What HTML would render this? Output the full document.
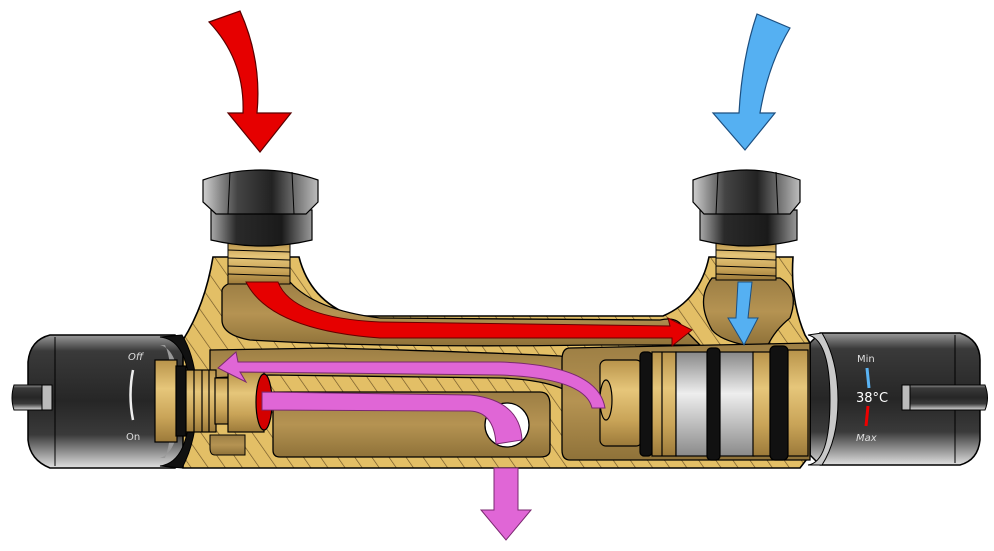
<!DOCTYPE html>
<html><head><meta charset="utf-8"><style>
html,body{margin:0;padding:0;background:#fff;width:994px;height:551px;overflow:hidden}
svg{display:block}
text{font-family:"DejaVu Sans","Liberation Sans",sans-serif}
</style></head><body>
<svg width="994" height="551" viewBox="0 0 994 551" xmlns="http://www.w3.org/2000/svg">
<defs>
<pattern id="hatch" width="14" height="14" patternUnits="userSpaceOnUse" patternTransform="rotate(-35)">
<rect width="14" height="14" fill="#e3bf66"/><line x1="0" y1="0" x2="0" y2="14" stroke="#6b5226" stroke-width="1.3"/>
</pattern>
<linearGradient id="knob" x1="0" y1="0" x2="0" y2="1">
<stop offset="0" stop-color="#9a9a9a"/><stop offset="0.12" stop-color="#3a3a3a"/><stop offset="0.5" stop-color="#262626"/><stop offset="0.75" stop-color="#3a3a3a"/><stop offset="1" stop-color="#e0e0e0"/>
</linearGradient>
<linearGradient id="nut" x1="0" y1="0" x2="1" y2="0">
<stop offset="0" stop-color="#cfcfcf"/><stop offset="0.3" stop-color="#444"/><stop offset="0.6" stop-color="#222"/><stop offset="1" stop-color="#bdbdbd"/>
</linearGradient>
<linearGradient id="nut2" x1="0" y1="0" x2="1" y2="0">
<stop offset="0" stop-color="#aaa"/><stop offset="0.25" stop-color="#2a2a2a"/><stop offset="0.7" stop-color="#1a1a1a"/><stop offset="1" stop-color="#999"/>
</linearGradient>
<linearGradient id="brass" x1="0" y1="0" x2="0" y2="1">
<stop offset="0" stop-color="#b8934a"/><stop offset="0.35" stop-color="#e6c67a"/><stop offset="0.7" stop-color="#c9a458"/><stop offset="1" stop-color="#9c7a3a"/>
</linearGradient>
<linearGradient id="silver" x1="0" y1="0" x2="0" y2="1">
<stop offset="0" stop-color="#888"/><stop offset="0.4" stop-color="#eee"/><stop offset="1" stop-color="#8a8a8a"/>
</linearGradient>
<linearGradient id="cav" x1="0" y1="0" x2="0" y2="1">
<stop offset="0" stop-color="#9c7e44"/><stop offset="0.5" stop-color="#b59352"/><stop offset="1" stop-color="#8f7239"/>
</linearGradient>
</defs>

<!-- arrows top -->
<path d="M209,22 L240,11 Q262,60 257,113 L291,113 L260,152 L228,113 L243,113 Q245,60 209,22 Z" fill="#e60000" stroke="#5a0000" stroke-width="1.2"/>
<path d="M757,14 L790,28 Q768,65 760,113 L775,113 L745,150 L713,113 L739,113 Q742,58 757,14 Z" fill="#55b0f2" stroke="#1c4f80" stroke-width="1.2"/>

<!-- left knob -->
<path d="M50,335 L175,335 L185,345 L185,462 L175,468 L50,468 Q30,460 28,440 L28,362 Q30,340 50,335 Z" fill="url(#knob)" stroke="#000" stroke-width="1.5"/>
<line x1="55" y1="337" x2="55" y2="466" stroke="#000" stroke-width="1"/>
<path d="M14,385 L50,385 L52,410 L14,410 Q10,398 14,385 Z" fill="url(#knob)" stroke="#000"/>
<path d="M42,385 L52,385 L52,410 L42,410 Z" fill="#bbb" stroke="#000"/>
<text x="128" y="360" font-size="10" fill="#ddd" font-style="italic">Off</text>
<path d="M133,370 Q128,395 133,420" fill="none" stroke="#eee" stroke-width="2.5"/>
<text x="126" y="440" font-size="10" fill="#ddd">On</text>

<!-- right knob -->
<path d="M820,333 L960,333 Q980,340 980,360 L980,440 Q978,460 960,465 L820,465 L810,455 L810,343 Z" fill="url(#knob)" stroke="#000" stroke-width="1.5"/>
<line x1="955" y1="335" x2="955" y2="463" stroke="#000" stroke-width="1"/>
<path d="M902,385 L985,385 Q990,398 985,410 L902,410 Z" fill="url(#knob)" stroke="#000"/>
<path d="M902,385 L910,385 L910,410 L902,410 Z" fill="#bbb" stroke="#000"/>
<text x="857" y="362" font-size="10" fill="#ddd">Min</text>
<line x1="867" y1="368" x2="869" y2="388" stroke="#5ab4f5" stroke-width="3"/>
<text x="856" y="402" font-size="13" fill="#fff">38°C</text>
<line x1="868" y1="406" x2="866" y2="426" stroke="#e00" stroke-width="3"/>
<text x="856" y="441" font-size="10" fill="#ddd" font-style="italic">Max</text>

<!-- body -->
<path d="M213,257 L299,257 Q310,300 352,316 L663,316 Q700,300 709,257 L793,257 Q790,300 805,335 L810,343 L810,455 L800,468 L183,468 L183,340 Q205,305 213,257 Z" fill="url(#hatch)" stroke="#000" stroke-width="1.6"/>

<!-- knob rim ends -->
<path d="M160,337 Q190,340 190,400 Q190,462 160,466 L182,468 Q197,440 197,400 Q197,360 182,335 Z" fill="#111" stroke="#000"/>
<path d="M160,345 Q180,350 180,400 Q180,452 160,458 L165,458 Q172,440 172,400 Q172,360 165,345 Z" fill="#999"/>
<path d="M808,335 Q830,340 830,400 Q830,462 808,465 L822,465 Q838,440 838,400 Q838,360 822,333 Z" fill="#c9c9c9" stroke="#000"/>

<!-- upper cavity -->
<path d="M222,290 Q225,282 240,282 L290,282 Q315,310 380,318 L660,320 Q678,316 683,328 L700,345 L600,345 Q380,348 250,340 Q222,335 222,320 Z" fill="url(#cav)" stroke="#000" stroke-width="1.3"/>
<!-- right inlet cavity -->
<path d="M712,278 L780,278 Q800,290 790,318 Q775,330 768,345 L745,345 Q720,340 712,330 Q695,300 712,278 Z" fill="url(#cav)" stroke="#000" stroke-width="1.3"/>
<!-- middle channel -->
<path d="M210,350 L330,348 Q480,352 560,356 Q590,360 600,378 L600,400 L580,400 Q560,380 500,378 L270,375 L210,378 Z" fill="url(#cav)" stroke="#000" stroke-width="1.3"/>
<!-- lower cavity -->
<path d="M273,392 L540,392 Q550,392 550,405 L550,450 Q550,457 540,457 L280,457 Q273,457 273,450 Z" fill="url(#cav)" stroke="#000" stroke-width="1.3"/>
<path d="M210,435 L245,435 L245,455 L215,455 Q210,455 210,448 Z" fill="url(#cav)" stroke="#000"/>
<!-- right cavity -->
<path d="M570,348 L810,343 L810,460 L570,460 Q562,460 562,450 L562,360 Q562,348 570,348 Z" fill="url(#cav)" stroke="#000" stroke-width="1.3"/>
<circle cx="507" cy="425" r="22" fill="#fff" stroke="#000" stroke-width="1.3"/>

<!-- threads -->
<g stroke="#000" stroke-width="1">
<rect x="228" y="242" width="62" height="42" fill="url(#brass)"/>
<line x1="228" y1="250" x2="290" y2="252"/><line x1="228" y1="258" x2="290" y2="260"/><line x1="228" y1="266" x2="290" y2="268"/><line x1="228" y1="274" x2="290" y2="276"/>
<rect x="716" y="242" width="60" height="38" fill="url(#brass)"/>
<line x1="716" y1="250" x2="776" y2="252"/><line x1="716" y1="258" x2="776" y2="260"/><line x1="716" y1="266" x2="776" y2="268"/><line x1="716" y1="274" x2="776" y2="276"/>
</g>

<!-- nuts -->
<path d="M211,210 L312,210 L312,240 Q262,252 211,240 Z" fill="url(#nut2)" stroke="#000" stroke-width="1.2"/>
<path d="M203,180 Q260,160 318,180 L318,202 L306,214 L216,214 L203,202 Z" fill="url(#nut)" stroke="#000" stroke-width="1.2"/>
<line x1="230" y1="172" x2="228" y2="214" stroke="#000"/><line x1="292" y1="172" x2="294" y2="214" stroke="#000"/>
<path d="M700,210 L797,210 L797,240 Q748,252 700,240 Z" fill="url(#nut2)" stroke="#000" stroke-width="1.2"/>
<path d="M693,180 Q747,160 800,180 L800,202 L790,214 L704,214 L693,202 Z" fill="url(#nut)" stroke="#000" stroke-width="1.2"/>
<line x1="718" y1="172" x2="716" y2="214" stroke="#000"/><line x1="776" y1="172" x2="778" y2="214" stroke="#000"/>

<!-- left cartridge -->
<g stroke="#000" stroke-width="1.2">
<rect x="155" y="360" width="22" height="82" fill="url(#brass)"/>
<rect x="176" y="366" width="10" height="70" fill="#111"/>
<rect x="186" y="370" width="30" height="62" fill="url(#brass)"/>
<line x1="194" y1="370" x2="194" y2="432"/><line x1="202" y1="370" x2="202" y2="432"/><line x1="209" y1="370" x2="209" y2="432"/>
<rect x="215" y="378" width="22" height="46" fill="url(#brass)"/>
<rect x="228" y="372" width="36" height="60" fill="url(#brass)"/>
<ellipse cx="264" cy="402" rx="8" ry="28" fill="#d40000"/>
</g>

<!-- right cartridge -->
<g stroke="#000" stroke-width="1.2">
<rect x="600" y="360" width="42" height="86" rx="6" fill="url(#brass)"/>
<ellipse cx="606" cy="400" rx="6" ry="20" fill="#c9a458"/>
<rect x="640" y="352" width="12" height="104" rx="4" fill="#111"/>
<rect x="652" y="352" width="24" height="104" fill="url(#brass)"/>
<line x1="662" y1="352" x2="662" y2="456"/>
<rect x="676" y="352" width="32" height="104" fill="url(#silver)"/>
<rect x="707" y="348" width="13" height="112" rx="4" fill="#111"/>
<rect x="720" y="352" width="34" height="104" fill="url(#silver)"/>
<rect x="753" y="352" width="18" height="104" fill="url(#brass)"/>
<rect x="770" y="346" width="18" height="114" rx="5" fill="#111"/>
<rect x="788" y="350" width="20" height="106" fill="url(#brass)"/>
</g>

<!-- red flow -->
<path d="M246,282 L278,282 Q292,318 380,322 L670,326 L668,318 L692,330 L672,346 L672,338 L380,338 Q270,330 246,282 Z" fill="#e60000" stroke="#600" stroke-width="1"/>
<!-- blue flow -->
<path d="M738,282 L752,282 L748,318 L758,318 L744,345 L728,318 L736,318 Z" fill="#55b0f2" stroke="#1c4f80" stroke-width="1"/>
<!-- pink flows -->
<path d="M605,408 L592,408 Q585,378 500,375 L240,372 L246,382 L218,368 L236,352 L238,362 L500,362 Q598,365 605,408 Z" fill="#e066d6" stroke="#7a2870" stroke-width="1"/>
<path d="M262,392 L470,395 Q520,400 522,440 L496,444 Q494,412 470,411 L262,410 Z" fill="#e066d6" stroke="#7a2870" stroke-width="1"/>
<path d="M494,468 L518,468 L518,510 L531,510 L506,540 L481,510 L494,510 Z" fill="#e066d6" stroke="#7a2870" stroke-width="1"/>
</svg>
</body></html>
